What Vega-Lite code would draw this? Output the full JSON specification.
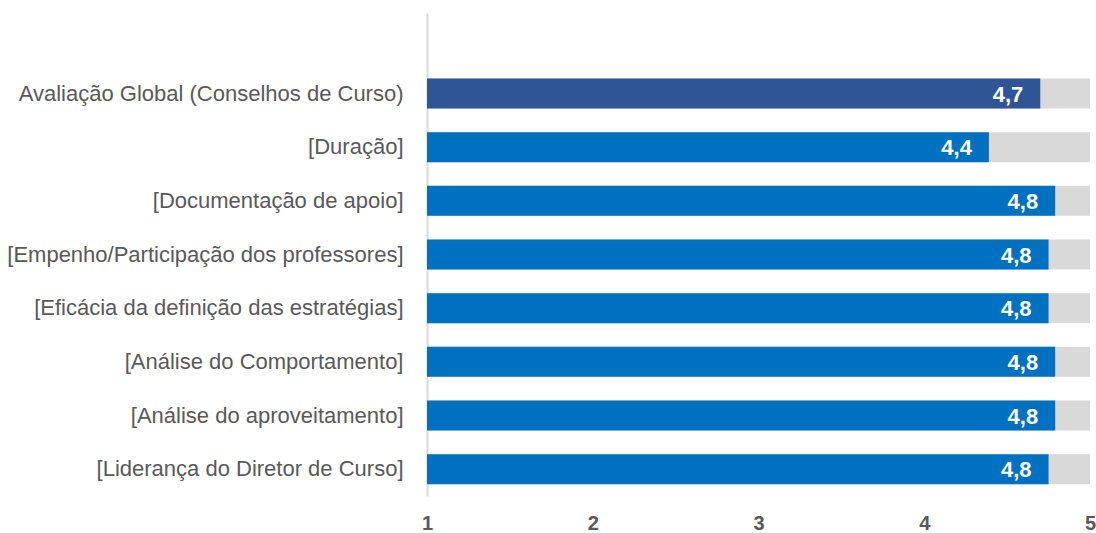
{
  "$schema": "https://vega.github.io/schema/vega-lite/v6.json",
  "width": 663,
  "height": 483,
  "autosize": {"type": "none"},
  "padding": {"left": 427, "top": 13, "right": 6, "bottom": 37},
  "config": {
    "view": {"stroke": null},
    "locale": {"number": {"decimal": ",", "thousands": ".", "grouping": [3], "currency": ["", " €"]}},
    "font": "Liberation Sans"
  },
  "data": {
    "values": [
      {"item": "Avaliação Global (Conselhos de Curso)", "valor": 4.70, "grupo": "global"},
      {"item": "[Duração]", "valor": 4.39, "grupo": "item"},
      {"item": "[Documentação de apoio]", "valor": 4.79, "grupo": "item"},
      {"item": "[Empenho/Participação dos professores]", "valor": 4.75, "grupo": "item"},
      {"item": "[Eficácia da definição das estratégias]", "valor": 4.75, "grupo": "item"},
      {"item": "[Análise do Comportamento]", "valor": 4.79, "grupo": "item"},
      {"item": "[Análise do aproveitamento]", "valor": 4.79, "grupo": "item"},
      {"item": "[Liderança do Diretor de Curso]", "valor": 4.75, "grupo": "item"}
    ]
  },
  "layer": [
    {
      "mark": {"type": "bar", "color": "#d9d9d9"},
      "encoding": {
        "y": {
          "field": "item",
          "type": "nominal",
          "title": null,
          "scale": {
            "domain": [" ", "Avaliação Global (Conselhos de Curso)", "[Duração]", "[Documentação de apoio]", "[Empenho/Participação dos professores]", "[Eficácia da definição das estratégias]", "[Análise do Comportamento]", "[Análise do aproveitamento]", "[Liderança do Diretor de Curso]"],
            "paddingInner": 0.44,
            "paddingOuter": 0.22
          },
          "axis": {
            "domain": true,
            "domainColor": "#d9d9d9",
            "domainWidth": 2,
            "ticks": false,
            "labelPadding": 24,
            "labelFontSize": 22,
            "labelColor": "#595959",
            "labelFont": "Liberation Sans",
            "labelLimit": 500
          }
        },
        "x": {"datum": 5, "type": "quantitative", "scale": {"domain": [1, 5], "zero": false, "nice": false},
          "axis": {"values": [1, 2, 3, 4, 5], "format": "d", "grid": false, "domain": false, "ticks": false, "labelFlush": false, "labelPadding": 17, "labelFontSize": 20, "labelFontWeight": "bold", "labelColor": "#595959", "labelFont": "Liberation Sans", "title": null}},
        "x2": {"datum": 1}
      }
    },
    {
      "mark": {"type": "bar"},
      "encoding": {
        "y": {"field": "item", "type": "nominal"},
        "x": {"field": "valor", "type": "quantitative", "scale": {"domain": [1, 5], "zero": false, "nice": false}},
        "x2": {"datum": 1},
        "color": {
          "field": "grupo",
          "type": "nominal",
          "scale": {"domain": ["global", "item"], "range": ["#2f5597", "#0070c0"]},
          "legend": null
        }
      }
    },
    {
      "mark": {"type": "text", "align": "right", "baseline": "middle", "dx": -17, "dy": 1, "color": "white", "fontSize": 22, "fontWeight": "bold", "font": "Liberation Sans"},
      "encoding": {
        "y": {"field": "item", "type": "nominal"},
        "x": {"field": "valor", "type": "quantitative"},
        "text": {"field": "valor", "type": "quantitative", "format": ".1f"}
      }
    }
  ]
}
